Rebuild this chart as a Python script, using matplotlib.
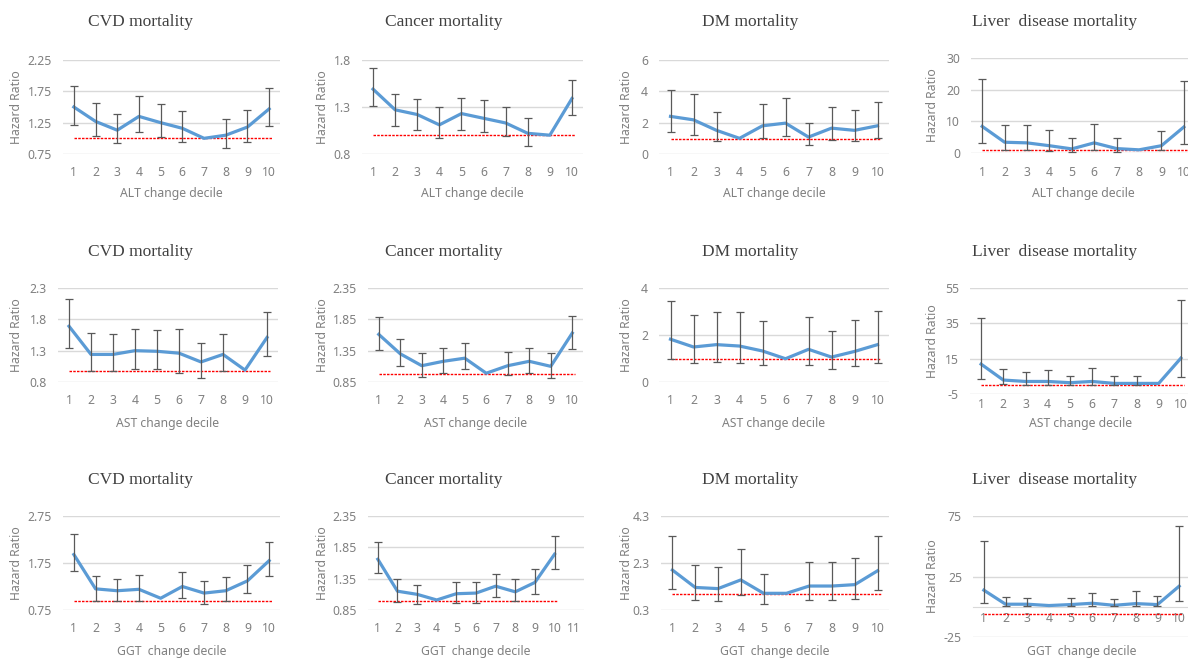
import matplotlib
matplotlib.use("Agg")
import matplotlib.pyplot as plt
import numpy as np

W, H, DPI = 1188, 658, 100
nan = np.nan

# ---- data (hazard ratio, lower CI, upper CI) ----
alt_cvd_hr = [1.50, 1.27, 1.13, 1.35, 1.25, 1.16, 1.00, 1.05, 1.18, 1.47]
alt_cvd_lo = [1.22, 1.03, 0.93, 1.10, 1.02, 0.94, nan, 0.84, 0.94, 1.19]
alt_cvd_hi = [1.84, 1.56, 1.39, 1.67, 1.54, 1.43, nan, 1.31, 1.46, 1.81]

alt_cancer_hr = [1.49, 1.27, 1.22, 1.11, 1.23, 1.18, 1.13, 1.02, 1.00, 1.39]
alt_cancer_lo = [1.31, 1.10, 1.06, 0.97, 1.06, 1.03, 0.99, 0.88, nan, 1.21]
alt_cancer_hi = [1.71, 1.44, 1.39, 1.30, 1.40, 1.37, 1.30, 1.18, nan, 1.59]

alt_dm_hr = [2.40, 2.18, 1.51, 1.00, 1.80, 1.97, 1.08, 1.65, 1.51, 1.80]
alt_dm_lo = [1.38, 1.23, 0.81, nan, 1.02, 1.12, 0.55, 0.91, 0.81, 1.02]
alt_dm_hi = [4.09, 3.84, 2.65, nan, 3.20, 3.60, 1.97, 2.97, 2.78, 3.35]

alt_liver_hr = [8.4, 3.4, 3.2, 2.3, 1.3, 3.2, 1.4, 1.0, 2.3, 8.2]
alt_liver_lo = [3.2, 0.8, 0.8, 0.5, 0.4, 0.8, 0.3, nan, 0.8, 2.8]
alt_liver_hi = [23.5, 9.0, 9.0, 7.4, 4.7, 9.3, 4.7, nan, 6.8, 22.6]

ast_cvd_hr = [1.69, 1.24, 1.24, 1.30, 1.29, 1.26, 1.12, 1.24, 0.99, 1.51]
ast_cvd_lo = [1.35, 0.97, 0.97, 1.01, 1.01, 0.94, 0.86, 0.97, nan, 1.21]
ast_cvd_hi = [2.13, 1.58, 1.56, 1.65, 1.63, 1.64, 1.42, 1.57, nan, 1.92]

ast_cancer_hr = [1.61, 1.30, 1.11, 1.18, 1.23, 0.99, 1.11, 1.18, 1.10, 1.63]
ast_cancer_lo = [1.36, 1.10, 0.93, 0.99, 1.05, nan, 0.96, 0.99, 0.92, 1.38]
ast_cancer_hi = [1.88, 1.53, 1.32, 1.40, 1.47, nan, 1.33, 1.39, 1.32, 1.90]

ast_dm_hr = [1.82, 1.49, 1.59, 1.53, 1.32, 0.99, 1.39, 1.06, 1.30, 1.59]
ast_dm_lo = [0.97, 0.81, 0.85, 0.81, 0.71, nan, 0.71, 0.54, 0.67, 0.81]
ast_dm_hi = [3.43, 2.84, 2.98, 2.98, 2.60, nan, 2.77, 2.16, 2.65, 3.01]

ast_liver_hr = [11.9, 2.9, 2.1, 2.1, 1.4, 2.1, 1.0, 1.0, 1.0, 15.3]
ast_liver_lo = [3.6, 0.6, 0.3, 0.3, 0.1, 0.3, 0.1, 0.1, nan, 4.9]
ast_liver_hi = [38.3, 9.1, 7.6, 8.5, 5.3, 9.6, 5.3, 5.3, nan, 48.3]

ggt_cvd_hr = [1.93, 1.20, 1.16, 1.19, 1.00, 1.25, 1.11, 1.16, 1.37, 1.80]
ggt_cvd_lo = [1.58, 0.95, 0.94, 0.94, nan, 1.00, 0.87, 0.94, 1.11, 1.47]
ggt_cvd_hi = [2.36, 1.47, 1.42, 1.49, nan, 1.55, 1.37, 1.46, 1.70, 2.20]

ggt_cancer_hr = [1.66, 1.15, 1.10, 1.01, 1.11, 1.12, 1.23, 1.14, 1.29, 1.74]
ggt_cancer_lo = [1.44, 0.98, 0.94, nan, 0.96, 0.96, 1.06, 0.99, 1.11, 1.50]
ggt_cancer_hi = [1.94, 1.34, 1.25, nan, 1.29, 1.30, 1.42, 1.34, 1.50, 2.03]

ggt_dm_hr = [2.00, 1.26, 1.21, 1.58, 1.01, 1.01, 1.32, 1.32, 1.38, 1.97]
ggt_dm_lo = [1.18, 0.73, 0.67, 0.92, 0.55, nan, 0.73, 0.73, 0.77, 1.15]
ggt_dm_hi = [3.45, 2.20, 2.12, 2.88, 1.83, nan, 2.36, 2.36, 2.50, 3.45]

ggt_liver_hr = [13.7, 2.1, 2.1, 1.0, 1.8, 2.9, 1.2, 2.6, 1.8, 17.0]
ggt_liver_lo = [3.5, 0.7, 0.7, nan, 0.7, 1.0, 0.7, 1.0, 0.7, 4.5]
ggt_liver_hi = [54.6, 8.2, 7.3, nan, 7.3, 11.5, 6.5, 13.1, 9.0, 67.0]

# dashed red reference level drawn in each panel
ref_levels = [
    [1.0, 1.0, 0.97, 0.85],
    [0.97, 0.97, 0.97, 0.0],
    [0.94, 0.99, 0.97, -5.7],
]

# y tick labels per panel
yticks_rows = [
    [["0.75", "1.25", "1.75", "2.25"], ["0.8", "1.3", "1.8"], ["0", "2", "4", "6"], ["0", "10", "20", "30"]],
    [["0.8", "1.3", "1.8", "2.3"], ["0.85", "1.35", "1.85", "2.35"], ["0", "2", "4"], ["-5", "15", "35", "55"]],
    [["0.75", "1.75", "2.75"], ["0.85", "1.35", "1.85", "2.35"], ["0.3", "2.3", "4.3"], ["-25", "25", "75"]],
]

titles = ["CVD mortality", "Cancer mortality", "DM mortality", "Liver  disease mortality"]
xlabels = ["ALT change decile", "AST change decile", "GGT  change decile"]
n_categories = [[10, 10, 10, 10], [10, 10, 10, 10], [10, 11, 10, 10]]

series = [
    [(alt_cvd_hr, alt_cvd_lo, alt_cvd_hi), (alt_cancer_hr, alt_cancer_lo, alt_cancer_hi),
     (alt_dm_hr, alt_dm_lo, alt_dm_hi), (alt_liver_hr, alt_liver_lo, alt_liver_hi)],
    [(ast_cvd_hr, ast_cvd_lo, ast_cvd_hi), (ast_cancer_hr, ast_cancer_lo, ast_cancer_hi),
     (ast_dm_hr, ast_dm_lo, ast_dm_hi), (ast_liver_hr, ast_liver_lo, ast_liver_hi)],
    [(ggt_cvd_hr, ggt_cvd_lo, ggt_cvd_hi), (ggt_cancer_hr, ggt_cancer_lo, ggt_cancer_hi),
     (ggt_dm_hr, ggt_dm_lo, ggt_dm_hi), (ggt_liver_hr, ggt_liver_lo, ggt_liver_hi)],
]

# ---- layout in pixels: plot area (left, right, top, bottom) ----
BOXES = [
    [(63, 280, 60, 154), (362, 583, 60, 154), (659, 889, 60, 154), (971, 1195, 58, 153)],
    [(58, 278, 288, 382), (368, 583, 288, 382), (659, 889, 288, 382), (970, 1192, 288, 394)],
    [(63, 280, 516, 610), (368, 584, 516, 610), (661, 889, 516, 610), (973, 1190, 516, 637)],
]
XTICK_PAD = [[9, 9, 9, 9], [9, 9, 9, 3], [9, 9, 9, 4]]
TITLE_X = [140, 444, 750, 1055]
TITLE_Y = [22, 252, 480]
YLABEL_X = [16, 321, 626, 931]
XLABEL_Y = [194, 423, 651]

BLUE = "#5b9bd5"
GRID = "#d9d9d9"
TEXT_GRAY = "#808080"
TICK_FONT = "Noto Sans"


def draw_panel(fig, box, data, ref, ytick_labels, n_cat, xpad, axis_at_zero=False):
    left, right, top, bottom = box
    ax = fig.add_axes([left / W, 1 - bottom / H, (right - left) / W, (bottom - top) / H])
    hr, lo, hi = (np.array(v, dtype=float) for v in data)
    x = np.arange(1, len(hr) + 1)
    yt = [float(t) for t in ytick_labels]

    ax.set_xlim(0.5, n_cat + 0.5)
    ax.set_ylim(yt[0], yt[-1])
    ax.set_yticks(yt)
    ax.set_yticklabels(ytick_labels)
    ax.set_xticks(range(1, n_cat + 1))
    ax.grid(axis="y", color=GRID, linewidth=1.0, zorder=0)
    ax.set_axisbelow(True)
    for side in ["top", "right", "left"]:
        ax.spines[side].set_visible(False)
    if axis_at_zero:
        ax.spines["bottom"].set_position(("data", 0))
        ax.spines["bottom"].set_color(GRID)
    else:
        ax.spines["bottom"].set_visible(False)
    ax.tick_params(axis="both", length=0, labelsize=8.8, labelcolor=TEXT_GRAY)
    ax.tick_params(axis="y", pad=8)
    ax.tick_params(axis="x", pad=xpad)
    for lab in ax.get_xticklabels() + ax.get_yticklabels():
        lab.set_fontfamily(TICK_FONT)

    ax.plot([1, 10.15], [ref, ref], color="#ff0000", linestyle=(0, (1.8, 0.9)), linewidth=1.0, zorder=2)
    ax.plot(x, hr, color=BLUE, linewidth=2.3, solid_joinstyle="round", zorder=3)
    has_ci = ~np.isnan(lo)
    ax.errorbar(x[has_ci], hr[has_ci],
                yerr=[hr[has_ci] - lo[has_ci], hi[has_ci] - hr[has_ci]],
                fmt="none", ecolor="#595959", elinewidth=0.9, capsize=3, capthick=0.9, zorder=4)
    return ax


fig = plt.figure(figsize=(W / DPI, H / DPI), dpi=DPI)
fig.patch.set_facecolor("white")

for r in range(3):
    for c in range(4):
        draw_panel(fig, BOXES[r][c], series[r][c], ref_levels[r][c], yticks_rows[r][c],
                   n_categories[r][c], XTICK_PAD[r][c], axis_at_zero=(r == 2 and c == 3))
        fig.text(TITLE_X[c] / W, 1 - TITLE_Y[r] / H, titles[c], ha="center", va="center",
                 fontsize=12.5, family="Liberation Serif", color="#404040")
        box = BOXES[r][c]
        fig.text((box[0] + box[1]) / 2 / W, 1 - XLABEL_Y[r] / H, xlabels[r], ha="center", va="center",
                 fontsize=8.8, family=TICK_FONT, color=TEXT_GRAY)
        fig.text((YLABEL_X[c] + 1) / W, 1 - (box[2] + box[3]) / 2 / H, "Hazard Ratio", ha="center",
                 va="center", rotation=90, fontsize=8.8, family=TICK_FONT, color=TEXT_GRAY)

fig.savefig("out.png", dpi=DPI)
